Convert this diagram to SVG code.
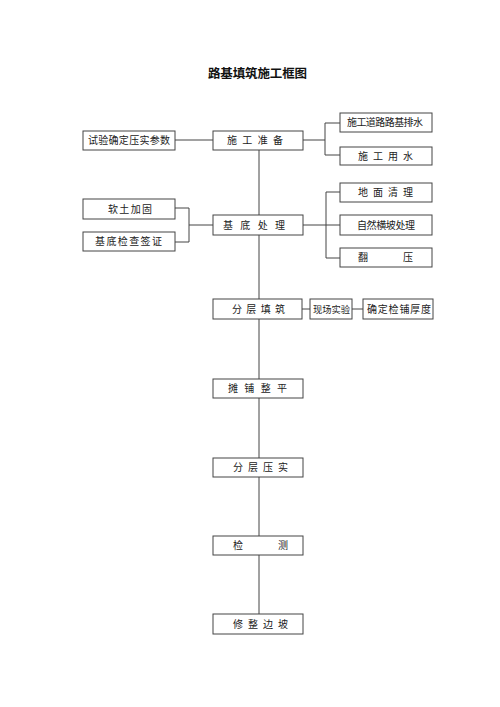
<svg xmlns="http://www.w3.org/2000/svg" width="500" height="707" viewBox="0 0 500 707">
<style>
rect.b{fill:#fff;stroke:#444;stroke-width:1}
.c line,.c polyline{stroke:#444;stroke-width:1;fill:none}
text{font-family:"Noto Sans CJK SC","Noto Sans",sans-serif;font-size:10px;fill:#222}
text.t{font-size:12.5px;font-weight:bold;fill:#111}
</style>
<rect width="500" height="707" fill="#fff"/>
<text class="t" x="208" y="78" textLength="99" lengthAdjust="spacing">路基填筑施工框图</text>
<g class="c" id="connectors">
<line x1="259" y1="150" x2="259" y2="614"/>
<line x1="175" y1="140" x2="213" y2="140"/>
<line x1="303" y1="140" x2="325" y2="140"/>
<polyline points="340,123 325,123 325,155 340,155"/>
<polyline points="175,208 189,208 189,242 175,242"/>
<line x1="189" y1="225" x2="213" y2="225"/>
<line x1="303" y1="225" x2="340" y2="225"/>
<polyline points="340,192 326,192 326,258 340,258"/>
<line x1="302" y1="309" x2="310" y2="309"/>
<line x1="352" y1="309" x2="363" y2="309"/>
</g>
<g id="n1"><rect class="b" x="83" y="131" width="92" height="19"/><text x="88" y="144" textLength="82" lengthAdjust="spacing">试验确定压实参数</text></g>
<g id="n2"><rect class="b" x="213" y="131" width="90" height="19"/><text x="227" y="144" textLength="56" lengthAdjust="spacing">施工准备</text></g>
<g id="n3"><rect class="b" x="340" y="113" width="92" height="19"/><text x="347" y="126" textLength="76" lengthAdjust="spacing">施工道路路基排水</text></g>
<g id="n4"><rect class="b" x="340" y="147" width="92" height="18"/><text x="358" y="160" textLength="55" lengthAdjust="spacing">施工用水</text></g>
<g id="n5"><rect class="b" x="83" y="199" width="92" height="20"/><text x="108" y="213" textLength="44" lengthAdjust="spacing">软土加固</text></g>
<g id="n6"><rect class="b" x="83" y="232" width="92" height="19"/><text x="95" y="245" textLength="67" lengthAdjust="spacing">基底检查签证</text></g>
<g id="n7"><rect class="b" x="213" y="215" width="90" height="20"/><text x="223" y="229" textLength="62" lengthAdjust="spacing">基底处理</text></g>
<g id="n8"><rect class="b" x="340" y="183" width="92" height="19"/><text x="358" y="196" textLength="55" lengthAdjust="spacing">地面清理</text></g>
<g id="n9"><rect class="b" x="340" y="215" width="92" height="20"/><text x="357" y="229" textLength="58" lengthAdjust="spacing">自然横坡处理</text></g>
<g id="n10"><rect class="b" x="340" y="248" width="92" height="19"/><text x="358" y="261" textLength="55" lengthAdjust="spacing">翻压</text></g>
<g id="n11"><rect class="b" x="213" y="299" width="89" height="20"/><text x="232" y="313" textLength="53" lengthAdjust="spacing">分层填筑</text></g>
<g id="n12"><rect class="b" x="310" y="299" width="42" height="20"/><text x="313" y="313" textLength="37" lengthAdjust="spacing" style="font-size:9.3px">现场实验</text></g>
<g id="n13"><rect class="b" x="363" y="299" width="70" height="20"/><text x="367" y="313" textLength="64" lengthAdjust="spacing">确定检铺厚度</text></g>
<g id="n14"><rect class="b" x="213" y="379" width="90" height="19"/><text x="228" y="392" textLength="59" lengthAdjust="spacing">摊铺整平</text></g>
<g id="n15"><rect class="b" x="213" y="458" width="90" height="19"/><text x="233" y="471" textLength="55" lengthAdjust="spacing">分层压实</text></g>
<g id="n16"><rect class="b" x="213" y="536" width="90" height="19"/><text x="233" y="549" textLength="55" lengthAdjust="spacing">检测</text></g>
<g id="n17"><rect class="b" x="213" y="614" width="90" height="20"/><text x="233" y="628" textLength="55" lengthAdjust="spacing">修整边坡</text></g>
</svg>
